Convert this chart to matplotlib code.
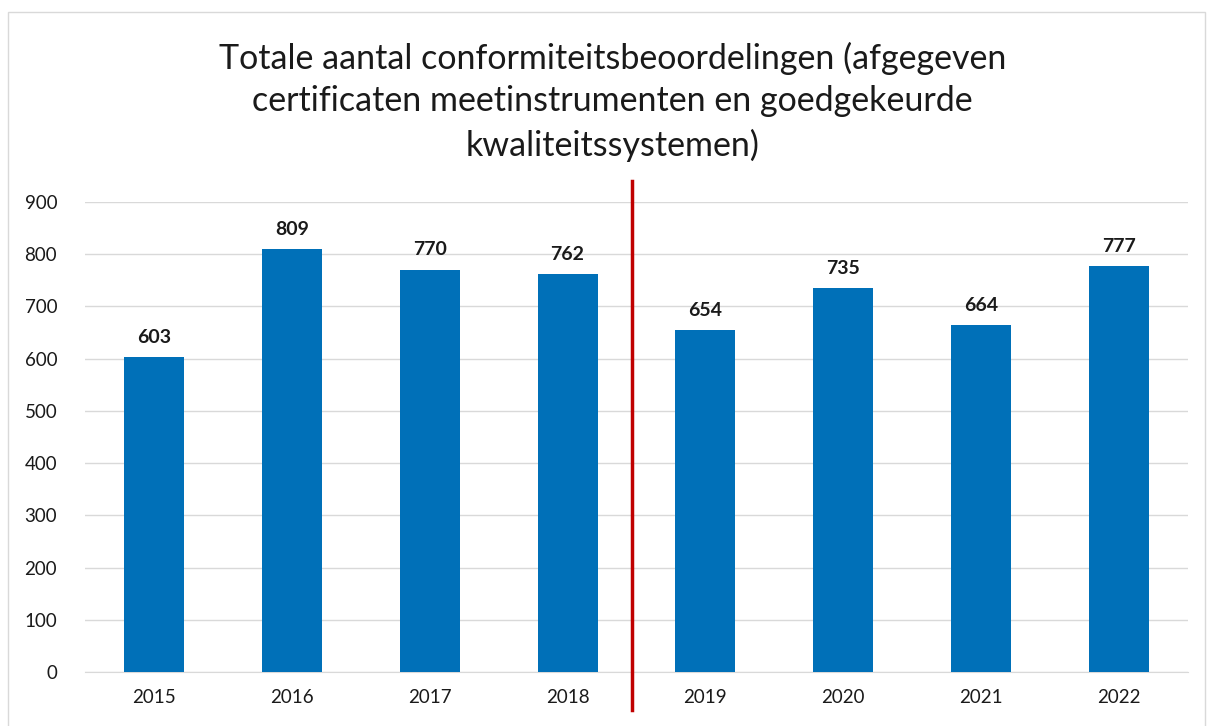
import matplotlib.pyplot as plt
from matplotlib.patches import Rectangle

# data
years = ['2015', '2016', '2017', '2018', '2019', '2020', '2021', '2022']
totals = [603, 809, 770, 762, 654, 735, 664, 777]
yticks = [0, 100, 200, 300, 400, 500, 600, 700, 800, 900]
title = ('Totale aantal conformiteitsbeoordelingen (afgegeven\n'
         'certificaten meetinstrumenten en goedgekeurde\n'
         'kwaliteitssystemen)')

plt.rcParams['font.family'] = ['Lato', 'DejaVu Sans']

fig = plt.figure(figsize=(12.1, 7.26), dpi=100)
ax = fig.add_axes([0.0702, 0.0744, 0.9116, 0.6474])

x = list(range(len(years)))
bars = ax.bar(x, totals, width=0.435, color='#0070B8', zorder=3)
for xi, v in zip(x, totals):
    ax.text(xi, v + 22, str(v), ha='center', va='bottom', fontsize=14,
            fontweight='bold', color='#1a1a1a')

ax.set_xlim(-0.5, len(years) - 0.5)
ax.set_ylim(0, 900)
ax.set_yticks(yticks)
ax.set_xticks(x)
ax.set_xticklabels(years)
ax.tick_params(axis='both', length=0, labelsize=13.5, colors='#1a1a1a')
ax.tick_params(axis='y', pad=20)
ax.tick_params(axis='x', pad=12)
ax.grid(axis='y', color='#d9d9d9', linewidth=1, zorder=0)
for s in ['top', 'right', 'left']:
    ax.spines[s].set_visible(False)
ax.spines['bottom'].set_color('#d9d9d9')

# red separator between 2018 and 2019
ax.plot([3.47, 3.47], [-73, 940], color='#C00000', linewidth=2.5,
        clip_on=False, zorder=4)

fig.text(0.506, 0.943, title, ha='center', va='top', fontsize=24.5,
         linespacing=1.42, color='#1a1a1a')

# light frame around the chart
fig.patches.append(Rectangle((8 / 1210, -0.01), 1197 / 1210, 1 - 12 / 726 + 0.01,
                             transform=fig.transFigure, fill=False,
                             edgecolor='#d9d9d9', linewidth=1))

fig.savefig('out.png', dpi=100)
